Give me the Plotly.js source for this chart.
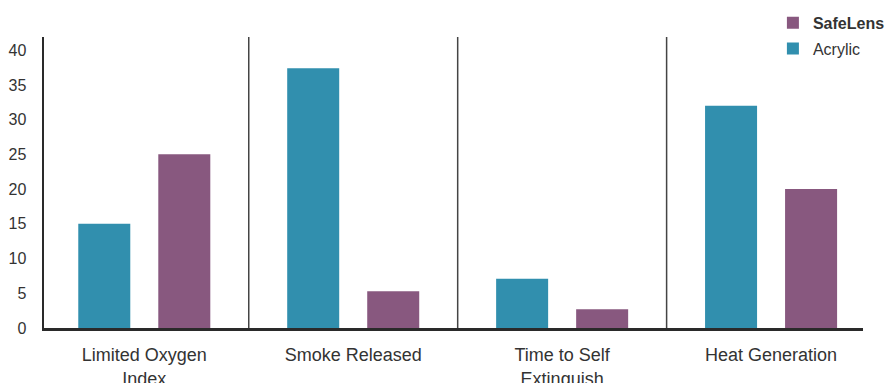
<!DOCTYPE html>
<html>
<head>
<meta charset="utf-8">
<script src="https://cdn.plot.ly/plotly-3.0.1.min.js"></script>
<style>html,body{margin:0;padding:0;background:#fff;}#chart{width:896px;height:383px;}</style>
</head>
<body>
<div id="chart"></div>
<script>
const categories = ["Limited Oxygen<br>Index", "Smoke Released", "Time to Self<br>Extinguish", "Heat Generation"];
const acrylicValues = [15, 37.4, 7.1, 32];
const safeLensValues = [25, 5.3, 2.7, 20];
const yTickValues = [0, 5, 10, 15, 20, 25, 30, 35, 40];

const font = "Liberation Sans, Arial, Helvetica, sans-serif";

const traces = [
  {type: "bar", name: "Acrylic", x: categories, y: acrylicValues, legendgroup: "a", legendrank: 2,
   marker: {color: "#318FAE"}, hoverinfo: "none"},
  {type: "bar", name: "<b>SafeLens</b>", x: categories, y: safeLensValues, legendgroup: "s", legendrank: 1,
   marker: {color: "#88587F"}, hoverinfo: "none"}
];

const layout = {
  width: 896, height: 383,
  margin: {l: 44, r: 33, t: 37, b: 55, autoexpand: false},
  paper_bgcolor: "#fff", plot_bgcolor: "#fff",
  barmode: "group", bargap: 0.234, bargroupgap: 0.35,
  font: {family: font, color: "#333", size: 14},
  showlegend: true,
  legend: {x: 0.89, y: 1.107, xanchor: "left", yanchor: "top", traceorder: "grouped",
           font: {family: font, size: 16, color: "#333"}, bgcolor: "rgba(0,0,0,0)", tracegroupgap: 2},
  xaxis: {type: "category", range: [-0.48, 3.44], showgrid: false, zeroline: false,
          showline: true, linecolor: "#2a2a2a", linewidth: 2.5,
          ticks: "outside", ticklen: 9, tickcolor: "rgba(0,0,0,0)",
          tickfont: {family: font, size: 18, color: "#333"}, fixedrange: true},
  yaxis: {range: [0, 41.9], tickvals: yTickValues, showgrid: false, zeroline: false,
          showline: true, linecolor: "#2a2a2a", linewidth: 2.5,
          ticks: "outside", ticklen: 12, tickcolor: "rgba(0,0,0,0)",
          tickfont: {family: font, size: 16, color: "#333"}, fixedrange: true},
  shapes: [0.5, 1.5, 2.5].map(v => ({type: "line", xref: "x", yref: "paper",
          x0: v, x1: v, y0: 0, y1: 1, line: {color: "#444", width: 1.5}}))
};

Plotly.newPlot("chart", traces, layout, {displayModeBar: false, staticPlot: true});
</script>
</body>
</html>
